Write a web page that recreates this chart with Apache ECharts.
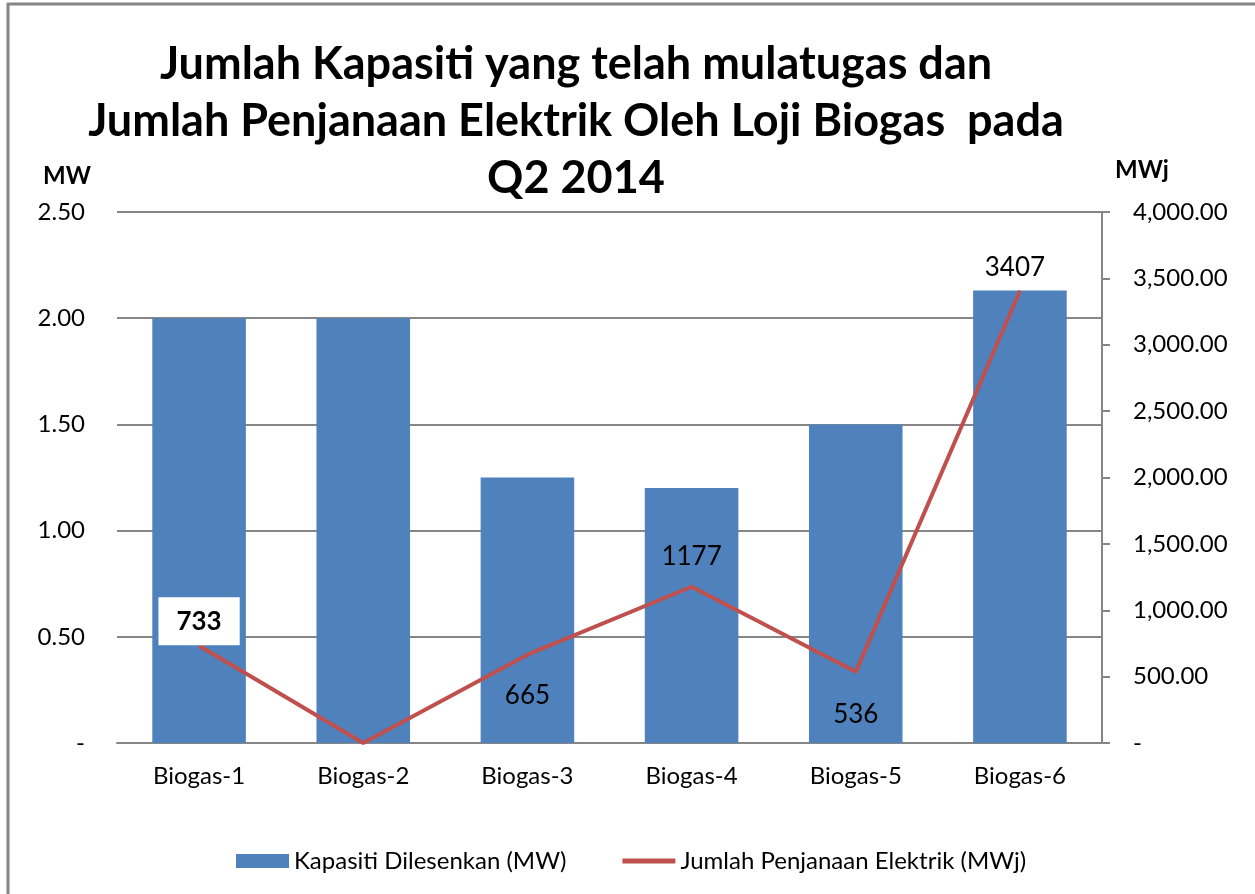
<!DOCTYPE html>
<html>
<head>
<meta charset="utf-8">
<script src="https://cdn.jsdelivr.net/npm/echarts@6/dist/echarts.min.js"></script>
<style>
    html, body { margin: 0; padding: 0; background: #fff; }
    #chart { width: 1255px; height: 894px; }
</style>
</head>
<body>
<div id="chart"></div>
<script>
var categories = ['Biogas-1', 'Biogas-2', 'Biogas-3', 'Biogas-4', 'Biogas-5', 'Biogas-6'];
var capacityMW = [2.00, 2.00, 1.25, 1.20, 1.50, 2.13];
var generationMWj = [733, 0, 665, 1177, 536, 3407];
var leftTicks = [0, 0.5, 1.0, 1.5, 2.0, 2.5];
var rightTicks = [0, 500, 1000, 1500, 2000, 2500, 3000, 3500, 4000];

var font = 'Lato, "Open Sans", sans-serif';
var gray = '#868686';

// label placement for each point of the line (index -> label settings)
var lineLabels = [
    { position: 'top', distance: 0, fontWeight: 'bold', backgroundColor: '#fff', padding: [11, 18, 11, 18] },
    { show: false },
    { position: 'bottom', distance: 27 },
    { position: 'top', distance: 17 },
    { position: 'bottom', distance: 29 },
    { position: 'top', distance: 10, offset: [-5, 0] }
];

function fmtRight(v) {
    if (v === 0) return '-';
    return v.toFixed(2).replace(/\B(?=(\d{3})+(?!\d))/g, ',');
}

var lineData = generationMWj.map(function(v, i) {
    return { value: v, label: lineLabels[i] };
});

var myChart = echarts.init(document.getElementById('chart'));

var option = {
    backgroundColor: '#fff',
    animation: false,
    textStyle: { fontFamily: font, color: '#000' },
    graphic: [
        { type: 'line', shape: { x1: 8, y1: 3, x2: 8, y2: 894 }, style: { stroke: gray, lineWidth: 3 } },
        { type: 'line', shape: { x1: 7, y1: 4, x2: 1255, y2: 4 }, style: { stroke: gray, lineWidth: 3 } },
        {
            type: 'text',
            style: {
                x: 576, y: 36,
                text: 'Jumlah Kapasiti yang telah mulatugas dan\nJumlah Penjanaan Elektrik Oleh Loji Biogas  pada\nQ2 2014',
                font: 'bold 45px ' + font, fill: '#000', textAlign: 'center', textVerticalAlign: 'top', lineHeight: 57
            }
        },
        { type: 'text', left: 43, top: 164, style: { text: 'MW', font: 'bold 24px ' + font, fill: '#000' } },
        { type: 'text', left: 1115, top: 158, style: { text: 'MWj', font: 'bold 24px ' + font, fill: '#000' } }
    ],
    grid: {
        left: 117,
        right: 153,
        top: 212,
        bottom: 151
    },
    legend: {
        left: 231,
        top: 844,
        itemWidth: 53,
        itemHeight: 14,
        itemGap: 56,
        textStyle: { fontSize: 24, fontFamily: font, color: '#000' },
        data: [
            { name: 'Kapasiti Dilesenkan (MW)', icon: 'rect' },
            { name: 'Jumlah Penjanaan Elektrik (MWj)', icon: 'path://M0,0H53V5H0Z' }
        ]
    },
    xAxis: {
        type: 'category',
        data: categories,
        axisLine: { lineStyle: { color: gray, width: 2 } },
        axisTick: { show: false },
        axisLabel: { fontSize: 24, color: '#000', margin: 21 }
    },
    yAxis: [{
        type: 'value',
        min: 0,
        max: 2.5,
        interval: 0.5,
        axisLine: { show: false },
        axisTick: { show: false },
        splitLine: { lineStyle: { color: gray, width: 2 } },
        axisLabel: {
            fontSize: 24, color: '#000', margin: 32,
            formatter: function(v) { return v === 0 ? '-' : v.toFixed(2); }
        }
    }, {
        type: 'value',
        min: 0,
        max: 4000,
        interval: 500,
        axisLine: { show: true, lineStyle: { color: gray, width: 2 } },
        axisTick: { show: true, inside: false, length: 8, lineStyle: { color: gray, width: 2 } },
        splitLine: { show: false },
        axisLabel: { fontSize: 24, color: '#000', margin: 31, formatter: fmtRight }
    }],
    series: [{
        name: 'Kapasiti Dilesenkan (MW)',
        type: 'bar',
        yAxisIndex: 0,
        barWidth: '57%',
        itemStyle: { color: '#4F81BD' },
        data: capacityMW
    }, {
        name: 'Jumlah Penjanaan Elektrik (MWj)',
        type: 'line',
        yAxisIndex: 1,
        symbol: 'circle',
        symbolSize: 1,
        itemStyle: { color: '#C0504D' },
        lineStyle: { color: '#C0504D', width: 4 },
        label: { show: true, fontSize: 26, color: '#000', fontFamily: font },
        z: 3,
        data: lineData
    }]
};

myChart.setOption(option);
</script>
</body>
</html>
